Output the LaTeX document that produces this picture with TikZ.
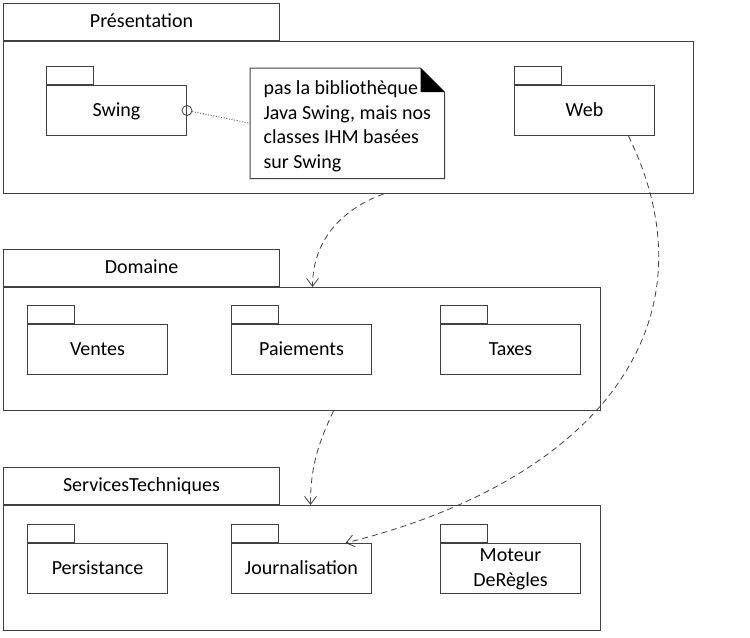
\documentclass[tikz,border=0pt]{standalone}
\usepackage{fontspec}
\setmainfont{Carlito}
\usetikzlibrary{arrows.meta}

\tikzset{
  every node/.style={font=\fontsize{15}{18.5}\selectfont},
  layer/.style={draw=black!75, line width=0.75pt, anchor=north west, inner sep=0pt},
  layertab/.style={draw=black!75, line width=0.75pt, minimum width=207pt, minimum height=27.75pt, anchor=south west, inner sep=0pt, text height=1em, text depth=0.16em},
  pkg/.style={draw=black!75, line width=0.75pt, minimum width=105pt, minimum height=37.5pt, anchor=north west, inner sep=0pt, text height=1em, text depth=0.16em},
  pkgtab/.style={draw=black!75, line width=0.75pt, minimum width=35.25pt, minimum height=13.5pt, anchor=south west, inner sep=0pt},
  dep/.style={black!75, line width=0.6pt, dash pattern=on 4.5pt off 3pt, -{Straight Barb[length=6pt,width=9pt]}},
}

\begin{document}
\begin{tikzpicture}[x=0.75pt,y=-0.75pt]
\useasboundingbox (0,0) rectangle (750,637);

\node[layer, minimum width=517.5pt, minimum height=114pt] (pres) at (3,41) {};
\node[layertab] (prestab) at (pres.north west) {Présentation};

\node[pkg] (swing) at (46,85) {Swing};
\node[pkgtab] (swingtab) at (swing.north west) {};
\node[pkg] (web) at (514,85) {Web};
\node[pkgtab] (webtab) at (web.north west) {};

\node[anchor=north west, minimum width=145.5pt, minimum height=82.5pt, inner sep=0pt] (note) at (250,68) {};
\node[align=left, inner sep=0pt, yshift=-2.25pt] (notetext) at (note.center)
  {pas la bibliothèque\\Java Swing, mais nos\\classes IHM basées\\sur Swing};
\draw[black!75, line width=0.75pt] (note.north west) -- ([xshift=-18pt]note.north east)
  -- ([yshift=-18pt]note.north east) -- (note.south east) -- (note.south west) -- cycle;
\fill ([xshift=-18pt]note.north east) -- ([xshift=-18pt,yshift=-18pt]note.north east)
  -- ([yshift=-18pt]note.north east) -- cycle;

\node[circle, draw=black!75, line width=0.6pt, minimum size=7.5pt, inner sep=0pt] (sock) at (swing.east) {};
\draw[black!70, line width=0.6pt, dash pattern=on 0.8pt off 1.2pt] (sock) -- (note.west);

\node[layer, minimum width=447.75pt, minimum height=92.25pt] (dom) at (3,287) {};
\node[layertab] (domtab) at (dom.north west) {Domaine};

\node[pkg] (ventes) at (27,324) {Ventes};
\node[pkgtab] (ventestab) at (ventes.north west) {};
\node[pkg] (paie) at (231,324) {Paiements};
\node[pkgtab] (paietab) at (paie.north west) {};
\node[pkg] (taxes) at (440,324) {Taxes};
\node[pkgtab] (taxestab) at (taxes.north west) {};

\node[layer, minimum width=447.75pt, minimum height=93.75pt] (serv) at (3,505) {};
\node[layertab] (servtab) at (serv.north west) {ServicesTechniques};

\node[pkg] (persist) at (27,543) {Persistance};
\node[pkgtab] (persisttab) at (persist.north west) {};
\node[pkg] (journal) at (231,543) {Journalisation};
\node[pkgtab] (journaltab) at (journal.north west) {};
\node[pkg] (moteur) at (440,543) {\begin{tabular}{@{}c@{}}Moteur\\DeRègles\end{tabular}};
\node[pkgtab] (moteurtab) at (moteur.north west) {};

\draw[dep] ([xshift=26.25pt]pres.south) to[out=200,in=90] ([xshift=7.9pt]dom.north);
\draw[dep] ([xshift=23.6pt]dom.south) to[out=245,in=90] ([xshift=6.4pt]serv.north);
\draw[dep] ([xshift=33pt]web.south) to[out=-64,in=14,out distance=155pt,in distance=197pt] ([xshift=33pt]journal.north);
\end{tikzpicture}
\end{document}
